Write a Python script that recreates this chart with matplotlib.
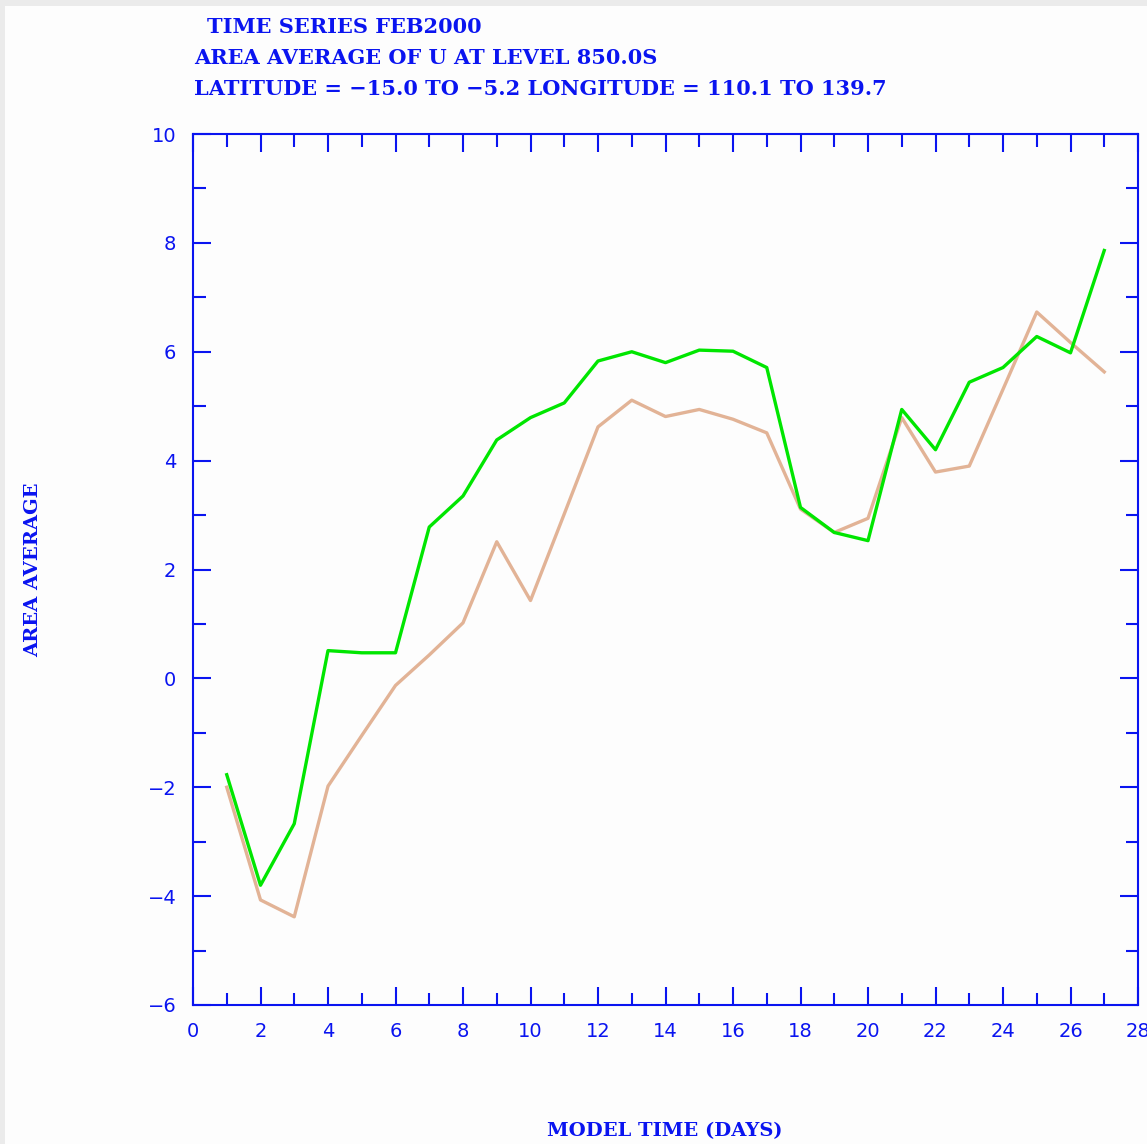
import matplotlib
matplotlib.use("Agg")
import matplotlib.pyplot as plt
from matplotlib.patches import Rectangle
from matplotlib.ticker import MultipleLocator

# model time (days) and area-averaged U at 850 (two runs)
days = list(range(1, 28))
u_green = [-1.77, -3.80, -2.67, 0.51, 0.47, 0.47, 2.78, 3.35, 4.38, 4.79, 5.06, 5.83, 6.00, 5.80,
           6.03, 6.01, 5.71, 3.14, 2.68, 2.53, 4.94, 4.20, 5.44, 5.71, 6.28, 5.98, 7.86]
u_tan = [-2.00, -4.07, -4.38, -1.98, -1.05, -0.13, 0.43, 1.02, 2.51, 1.43, 3.02, 4.62, 5.11, 4.81,
         4.94, 4.76, 4.51, 3.11, 2.68, 2.94, 4.79, 3.79, 3.90, 5.31, 6.73, 6.17, 5.63]

title_lines = ["TIME SERIES FEB2000",
               "AREA AVERAGE OF U AT LEVEL 850.0S",
               "LATITUDE = \u221215.0 TO \u22125.2 LONGITUDE = 110.1 TO 139.7"]

BLUE = "#0a14f0"
W, H = 1147, 1144
fig = plt.figure(figsize=(W / 100, H / 100), dpi=100, facecolor="#ebebeb")
fig.patches.append(Rectangle((5 / W, 0), 1, 1 - 6 / H, transform=fig.transFigure,
                             facecolor="#fdfdfd", edgecolor="none", zorder=-1))

ax = fig.add_axes([193 / W, 1 - 1005 / H, (1138 - 193) / W, (1005 - 134) / H])
ax.set_facecolor("#fdfdfd")
ax.plot(days, u_tan, color="#e2b396", lw=2.4)
ax.plot(days, u_green, color="#00e600", lw=2.4)

ax.set_xlim(0, 28)
ax.set_ylim(-6, 10)
ax.xaxis.set_major_locator(MultipleLocator(2))
ax.xaxis.set_minor_locator(MultipleLocator(1))
ax.yaxis.set_major_locator(MultipleLocator(2))
ax.yaxis.set_minor_locator(MultipleLocator(1))
ax.tick_params(which="both", direction="in", top=True, right=True, color=BLUE,
               width=1.5, labelcolor=BLUE, labelsize=14)
ax.tick_params(which="major", length=13, pad=12)
ax.tick_params(which="minor", length=9)
for s in ax.spines.values():
    s.set_color(BLUE)
    s.set_linewidth(1.5)
ax.set_yticks(range(-6, 11, 2))
ax.set_yticklabels([str(v).replace("-", "\u2212") for v in range(-6, 11, 2)])

tfont = dict(family="DejaVu Serif", weight="bold", color=BLUE, fontsize=15)
fig.text(207 / W, 1 - 27 / H, title_lines[0], va="center", ha="left", **tfont)
fig.text(194 / W, 1 - 58 / H, title_lines[1], va="center", ha="left", **tfont)
fig.text(194 / W, 1 - 89 / H, title_lines[2], va="center", ha="left", **tfont)
lfont = dict(tfont, fontsize=14)
fig.text(665 / W, 1 - 1131 / H, "MODEL TIME (DAYS)", va="center", ha="center", **lfont)
fig.text(33 / W, 1 - 570 / H, "AREA AVERAGE", va="center", ha="center", rotation=90, **lfont)

fig.savefig("out.png", dpi=100, facecolor=fig.get_facecolor())
